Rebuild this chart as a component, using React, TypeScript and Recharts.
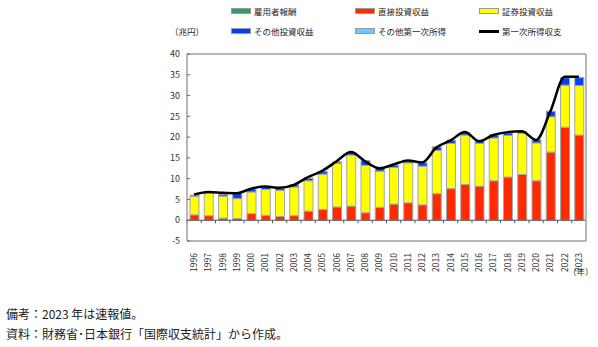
import { Bar, ComposedChart, Line, ReferenceLine, XAxis, YAxis } from "recharts"

const years = [
  "1996", "1997", "1998", "1999", "2000", "2001", "2002", "2003", "2004", "2005",
  "2006", "2007", "2008", "2009", "2010", "2011", "2012", "2013", "2014", "2015",
  "2016", "2017", "2018", "2019", "2020", "2021", "2022", "2023",
]
const direct = [1.3, 1.1, 0.5, 0.4, 1.6, 1.2, 0.9, 1.1, 2.2, 2.6, 3.2, 3.4, 1.8, 3.1, 3.9, 4.2, 3.7, 6.4, 7.6, 8.6, 8.2, 9.5, 10.4, 11.0, 9.5, 16.4, 22.4, 20.5]
const portfolio = [4.5, 5.5, 5.3, 4.8, 5.2, 6.2, 6.3, 6.9, 7.3, 8.5, 10.5, 12.3, 11.4, 8.7, 8.8, 9.6, 9.3, 10.4, 10.9, 11.9, 10.3, 10.3, 10.0, 9.9, 9.1, 8.5, 10.1, 11.9]
const otherInvest = [0.2, 0.1, 0.4, 1.2, 0.6, 0.5, 0.5, 0.5, 0.6, 0.6, 0.3, 0.6, 1.1, 0.7, 0.5, 0.3, 0.8, 0.8, 0.7, 0.6, 0.5, 0.7, 0.6, 0.4, 0.7, 1.3, 1.8, 1.9]
const compensation = [0.05, 0.05, 0.04, 0.04, 0.05, 0.05, 0.04, 0.04, 0.05, 0.05, 0.06, 0.06, 0.05, 0.05, 0.05, 0.05, 0.05, 0.06, 0.06, 0.06, 0.06, 0.06, 0.06, 0.06, 0.05, 0.05, 0.06, 0.06]
const otherPrimary = [0, 0, 0, 0, 0, 0, 0, 0, 0, 0, 0, 0, 0, 0, 0, 0, 0, 0, 0, 0, 0, 0, 0, 0, 0, 0, 0, 0]
const total = [6.2, 6.8, 6.6, 6.5, 7.6, 8.1, 7.8, 8.5, 10.4, 11.9, 14.2, 16.4, 14.2, 12.5, 13.4, 14.4, 13.9, 17.5, 19.2, 21.2, 19.0, 20.5, 21.2, 21.4, 19.3, 26.2, 34.5, 34.5]
const yTicks = [-5, 0, 5, 10, 15, 20, 25, 30, 35, 40]

const data = years.map((year, i) => ({
  year,
  compensation: compensation[i],
  direct: direct[i],
  portfolio: portfolio[i],
  otherInvest: otherInvest[i],
  otherPrimary: otherPrimary[i],
  total: total[i],
}))

const font = '"Noto Sans CJK JP", "Noto Sans", sans-serif'
const frame = "#a0a0a0"
const edge = "#a6a6a6"

const legend = [
  { name: "雇用者報酬", color: "#339966", left: 231, top: 5 },
  { name: "直接投資収益", color: "#ff2a00", left: 355, top: 5 },
  { name: "証券投資収益", color: "#ffff00", left: 479, top: 5 },
  { name: "その他投資収益", color: "#0040ff", left: 231, top: 25 },
  { name: "その他第一次所得", color: "#66ccff", left: 355, top: 25 },
]

function YearTick(props: any) {
  const { x, y, payload } = props
  return (
    <text x={x} y={y + 4} transform={`rotate(-90 ${x} ${y + 4})`} textAnchor="end" dy="0.35em" fontSize={8.5} fill="#333" fontFamily={font}>
      {payload.value}
    </text>
  )
}

function ZeroLine(props: any) {
  const { x1, x2, y1 } = props
  const step = (x2 - x1) / years.length
  return (
    <g>
      <line x1={x1} x2={x2} y1={y1} y2={y1} stroke="#555" strokeWidth={1} />
      {years.map((_, i) => (
        <line key={i} x1={x1 + step * i} x2={x1 + step * i} y1={y1} y2={y1 + 3} stroke="#555" strokeWidth={1} />
      ))}
    </g>
  )
}

export default function App() {
  return (
    <div style={{ position: "absolute", left: 0, top: 0, width: 598, height: 347, background: "#fff", fontFamily: font }}>
      {legend.map((l) => (
        <div key={l.name} style={{ position: "absolute", left: l.left, top: l.top, display: "flex", alignItems: "center", fontSize: 8.5, color: "#222", whiteSpace: "nowrap" }}>
          <span style={{ display: "inline-block", width: 18, height: 4, background: l.color, border: "1px solid #999", marginRight: 3 }} />
          {l.name}
        </div>
      ))}
      <div style={{ position: "absolute", left: 479, top: 25, display: "flex", alignItems: "center", fontSize: 8.5, color: "#222", whiteSpace: "nowrap" }}>
        <span style={{ display: "inline-block", width: 20, height: 3, background: "#000", marginRight: 3 }} />
        第一次所得収支
      </div>
      <div style={{ position: "absolute", left: 170, top: 25, fontSize: 8.5, color: "#222" }}>（兆円）</div>

      <div style={{ position: "absolute", left: 0, top: 0 }}>
        <ComposedChart width={598} height={300} data={data} margin={{ top: 53, right: 11, bottom: 29, left: 147 }}>
          <XAxis dataKey="year" axisLine={{ stroke: frame, strokeWidth: 1.5 }} tickLine={false} tick={<YearTick />} interval={0} height={30} />
          <XAxis xAxisId="top" dataKey="year" orientation="top" axisLine={{ stroke: frame, strokeWidth: 1.5 }} tick={false} tickLine={false} height={1} />
          <YAxis
            domain={[-5, 40]}
            ticks={yTicks}
            interval={0}
            width={40}
            axisLine={{ stroke: frame, strokeWidth: 1.5 }}
            tickLine={{ stroke: "#666" }}
            tickSize={-3}
            tickMargin={10}
            tick={{ fontSize: 9, fill: "#333", fontFamily: font }}
          />
          <YAxis yAxisId="right" orientation="right" width={1} axisLine={{ stroke: frame, strokeWidth: 1.5 }} tick={false} tickLine={false} />
          <ReferenceLine y={0} shape={<ZeroLine />} />
          <Bar dataKey="direct" stackId="a" barSize={9} fill="#ff2a00" stroke={edge} strokeWidth={1} isAnimationActive={false} />
          <Bar dataKey="portfolio" stackId="a" barSize={9} fill="#ffff00" stroke={edge} strokeWidth={1} isAnimationActive={false} />
          <Bar dataKey="otherInvest" stackId="a" barSize={9} fill="#0040ff" stroke={edge} strokeWidth={1} isAnimationActive={false} />
          <Bar dataKey="otherPrimary" stackId="a" barSize={9} fill="#66ccff" stroke={edge} strokeWidth={1} isAnimationActive={false} />
          <Bar dataKey="compensation" stackId="a" barSize={9} fill="#339966" stroke={edge} strokeWidth={0.5} isAnimationActive={false} />
          <Line dataKey="total" type="monotone" stroke="#000" strokeWidth={2.5} dot={false} isAnimationActive={false} />
        </ComposedChart>
      </div>

      <div style={{ position: "absolute", left: 568, top: 265, fontSize: 8.5, color: "#333" }}>（年）</div>
      <div style={{ position: "absolute", left: 6, top: 304, fontSize: 12, color: "#222", lineHeight: "20px" }}>
        <div>備考：2023 年は速報値。</div>
        <div>資料：財務省･日本銀行「国際収支統計」から作成。</div>
      </div>
    </div>
  )
}
